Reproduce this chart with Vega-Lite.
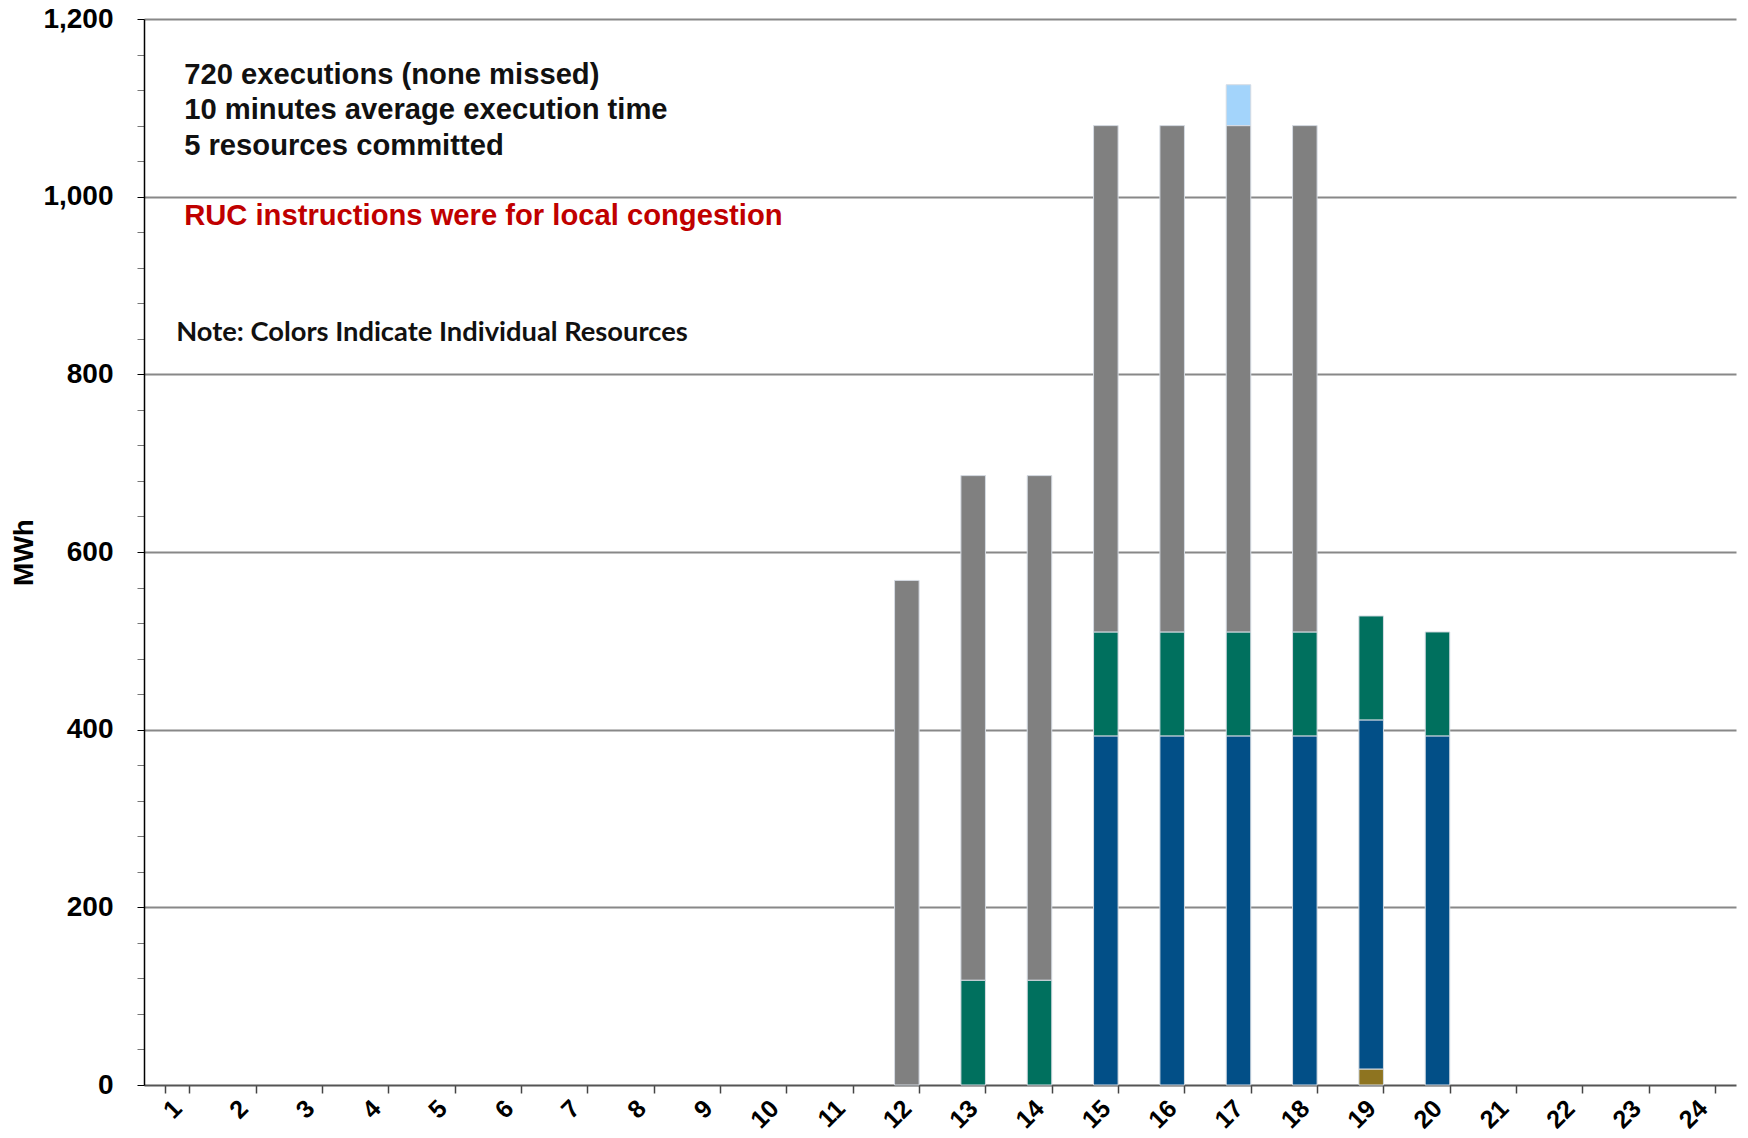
{
  "$schema": "https://vega.github.io/schema/vega-lite/v6.json",
  "width": 1592,
  "height": 1066,
  "autosize": {"type": "none"},
  "padding": {"left": 144, "top": 19, "right": 12, "bottom": 53},
  "background": "white",
  "config": {
    "view": {"stroke": null},
    "font": "Liberation Sans"
  },
  "datasets": {
    "bars": [
      {"hour": "12", "resource": "Resource 4", "mwh": 568},
      {"hour": "13", "resource": "Resource 3", "mwh": 118},
      {"hour": "13", "resource": "Resource 4", "mwh": 568},
      {"hour": "14", "resource": "Resource 3", "mwh": 118},
      {"hour": "14", "resource": "Resource 4", "mwh": 568},
      {"hour": "15", "resource": "Resource 2", "mwh": 393},
      {"hour": "15", "resource": "Resource 3", "mwh": 117},
      {"hour": "15", "resource": "Resource 4", "mwh": 570},
      {"hour": "16", "resource": "Resource 2", "mwh": 393},
      {"hour": "16", "resource": "Resource 3", "mwh": 117},
      {"hour": "16", "resource": "Resource 4", "mwh": 570},
      {"hour": "17", "resource": "Resource 2", "mwh": 393},
      {"hour": "17", "resource": "Resource 3", "mwh": 117},
      {"hour": "17", "resource": "Resource 4", "mwh": 570},
      {"hour": "17", "resource": "Resource 5", "mwh": 46},
      {"hour": "18", "resource": "Resource 2", "mwh": 393},
      {"hour": "18", "resource": "Resource 3", "mwh": 117},
      {"hour": "18", "resource": "Resource 4", "mwh": 570},
      {"hour": "19", "resource": "Resource 1", "mwh": 18},
      {"hour": "19", "resource": "Resource 2", "mwh": 393},
      {"hour": "19", "resource": "Resource 3", "mwh": 117},
      {"hour": "20", "resource": "Resource 2", "mwh": 393},
      {"hour": "20", "resource": "Resource 3", "mwh": 117}
    ],
    "notes": [
      {"label": "720 executions (none missed)", "pos": 1137, "kind": "info"},
      {"label": "10 minutes average execution time", "pos": 1097, "kind": "info"},
      {"label": "5 resources committed", "pos": 1057, "kind": "info"},
      {"label": "RUC instructions were for local congestion", "pos": 978, "kind": "alert"}
    ],
    "note2": [
      {"label": "Note: Colors Indicate Individual Resources", "pos": 847}
    ]
  },
  "layer": [
    {
      "data": {"name": "bars"},
      "mark": {"type": "bar", "stroke": "#d5dbe3", "strokeWidth": 1},
      "encoding": {
        "x": {
          "field": "hour",
          "type": "ordinal",
          "scale": {
            "domain": ["1","2","3","4","5","6","7","8","9","10","11","12","13","14","15","16","17","18","19","20","21","22","23","24"],
            "paddingInner": 0.63,
            "paddingOuter": 0.315
          },
          "axis": {
            "title": null,
            "labelAngle": -45,
            "labelAlign": "right",
            "labelBaseline": "middle",
            "labelFontSize": 25,
            "labelFontWeight": "bold",
            "labelColor": "black",
            "labelPadding": 11,
            "labelOverlap": false,
            "tickBand": "extent",
            "tickSize": 8,
            "tickColor": "#444",
            "tickWidth": 1.5,
            "domainColor": "#555",
            "domainWidth": 2,
            "grid": false
          }
        },
        "y": {
          "field": "mwh",
          "type": "quantitative",
          "aggregate": "sum",
          "stack": "zero",
          "scale": {"domain": [0, 1200], "nice": false},
          "axis": {
            "title": "MWh",
            "titleFontSize": 28,
            "titleFontWeight": "bold",
            "titleColor": "black",
            "titleX": -120,
            "titleBaseline": "middle",
            "tickCount": 100,
            "values": [0,40,80,120,160,200,240,280,320,360,400,440,480,520,560,600,640,680,720,760,800,840,880,920,960,1000,1040,1080,1120,1160,1200],
            "labelExpr": "datum.value % 200 === 0 ? format(datum.value, ',') : ''",
            "labelOverlap": false,
            "labelFontSize": 28,
            "labelFontWeight": "bold",
            "labelColor": "black",
            "labelPadding": 24,
            "tickSize": 7,
            "tickColor": {"condition": {"test": "datum.value % 200 === 0", "value": "black"}, "value": "#777"},
            "grid": true,
            "gridColor": "#888",
            "gridWidth": 2,
            "gridOpacity": {"condition": {"test": "datum.value % 200 === 0 && datum.value > 0", "value": 1}, "value": 0},
            "domainColor": "black",
            "domainWidth": 1.5
          }
        },
        "color": {
          "field": "resource",
          "type": "nominal",
          "scale": {
            "domain": ["Resource 1", "Resource 2", "Resource 3", "Resource 4", "Resource 5"],
            "range": ["#8E7420", "#024F87", "#00705E", "#808080", "#A3D4FB"]
          },
          "legend": null
        },
        "order": {"field": "resource", "sort": "ascending"}
      }
    },
    {
      "data": {"name": "notes"},
      "mark": {"type": "text", "align": "left", "baseline": "middle", "fontSize": 29.2, "fontWeight": "bold", "font": "Liberation Sans", "dx": 7},
      "encoding": {
        "x": {"datum": "1", "type": "ordinal"},
        "y": {"field": "pos", "type": "quantitative"},
        "text": {"field": "label"},
        "color": {
          "field": "kind",
          "type": "nominal",
          "scale": {"domain": ["info", "alert"], "range": ["#111111", "#C00000"]},
          "legend": null
        }
      }
    },
    {
      "data": {"name": "note2"},
      "mark": {"type": "text", "align": "left", "baseline": "middle", "fontSize": 27.3, "fontWeight": "bold", "font": "Lato", "color": "#111111", "dx": -1},
      "encoding": {
        "x": {"datum": "1", "type": "ordinal"},
        "y": {"field": "pos", "type": "quantitative"},
        "text": {"field": "label"}
      }
    }
  ],
  "resolve": {"scale": {"color": "independent"}}
}
